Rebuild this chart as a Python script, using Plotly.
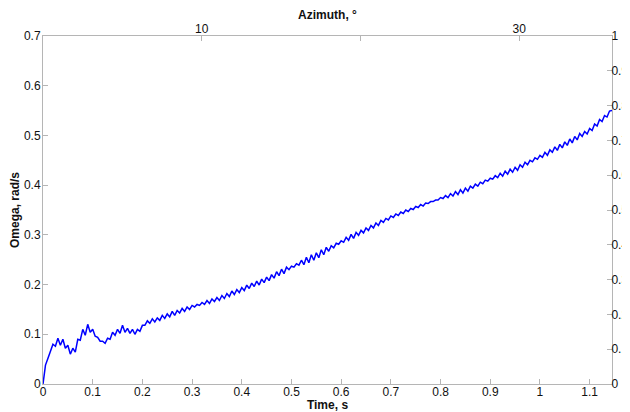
import numpy as np
import plotly.graph_objects as go

# sampling step of the recorded signal, s
dt = 0.005

# Omega, rad/s, sampled every dt from t = 0 s
omega_start = [
    0.000, 0.038, 0.052, 0.068, 0.080, 0.076, 0.092, 0.078, 0.090, 0.072,
    0.078, 0.060, 0.072, 0.064, 0.090, 0.088, 0.110, 0.098, 0.120, 0.104,
    0.110, 0.096, 0.094, 0.086, 0.086, 0.082, 0.092, 0.090, 0.104, 0.098,
    0.110, 0.102, 0.118, 0.104, 0.112, 0.102, 0.110, 0.100, 0.110, 0.106,
    0.118,
]
omega_mid = [
    0.118, 0.127, 0.122, 0.131, 0.125, 0.133, 0.128, 0.138, 0.132, 0.141,
    0.135, 0.146, 0.138, 0.148, 0.143, 0.152, 0.146, 0.155, 0.150, 0.158,
    0.155, 0.160, 0.158, 0.164, 0.160, 0.168, 0.162, 0.171, 0.166, 0.174,
    0.168, 0.178, 0.172, 0.182, 0.176, 0.187, 0.180, 0.190, 0.184, 0.194,
    0.188, 0.199, 0.192, 0.203, 0.196, 0.207, 0.199, 0.211, 0.204, 0.215,
    0.208, 0.220, 0.213, 0.226, 0.218, 0.231, 0.222, 0.235, 0.230, 0.237,
    0.235, 0.242, 0.239, 0.249, 0.240, 0.255, 0.244, 0.260, 0.249, 0.264,
    0.254, 0.270, 0.260, 0.275, 0.267, 0.278, 0.274, 0.283, 0.281, 0.288,
    0.285, 0.295, 0.289, 0.301, 0.293, 0.305, 0.299, 0.309, 0.304, 0.314,
    0.309, 0.319, 0.314, 0.324, 0.319, 0.329, 0.325, 0.333, 0.330, 0.338,
]
omega_end = [
    0.335, 0.342, 0.339, 0.346, 0.343, 0.350, 0.347, 0.353, 0.351, 0.357,
    0.355, 0.361, 0.358, 0.364, 0.363, 0.367, 0.367, 0.370, 0.370, 0.375,
    0.373, 0.379, 0.375, 0.383, 0.378, 0.387, 0.381, 0.391, 0.384, 0.394,
    0.388, 0.398, 0.394, 0.402, 0.398, 0.406, 0.403, 0.410, 0.408, 0.414,
    0.412, 0.419, 0.415, 0.424, 0.418, 0.428, 0.422, 0.432, 0.426, 0.436,
    0.430, 0.441, 0.436, 0.446, 0.441, 0.450, 0.447, 0.455, 0.452, 0.460,
    0.456, 0.466, 0.460, 0.471, 0.466, 0.477, 0.470, 0.482, 0.475, 0.487,
    0.480, 0.493, 0.485, 0.498, 0.491, 0.504, 0.498, 0.508, 0.503, 0.514,
    0.510, 0.523, 0.519, 0.532, 0.528, 0.540, 0.537, 0.549, 0.550,
]
omega = omega_start + omega_mid + omega_end
time_s = np.round(np.arange(len(omega)) * dt, 3)

time_ticks = [0, 0.1, 0.2, 0.3, 0.4, 0.5, 0.6, 0.7, 0.8, 0.9, 1, 1.1]
omega_ticks = [0, 0.1, 0.2, 0.3, 0.4, 0.5, 0.6, 0.7]
right_ticks = [0, 0.1, 0.2, 0.3, 0.4, 0.5, 0.6, 0.7, 0.8, 0.9, 1]
azimuth_ticks = [10, 20, 30]
azimuth_labels = ['10', '', '30']

grey = '#b5b5b5'
font = dict(family='Liberation Sans, Arial, sans-serif', size=12, color='#111')
axis_style = dict(showline=True, linecolor=grey, linewidth=1, ticks='inside',
                  ticklen=5, tickcolor=grey, showgrid=False, zeroline=False,
                  tickfont=font, automargin=False, ticklabeloverflow='allow')

fig = go.Figure()
fig.add_trace(go.Scatter(x=time_s, y=omega, mode='lines',
                         line=dict(color='#0000ff', width=1.5),
                         showlegend=False, hoverinfo='x+y'))
# empty trace so the top and right axes get drawn
fig.add_trace(go.Scatter(x=[None], y=[None], xaxis='x2', yaxis='y2',
                         showlegend=False, hoverinfo='skip'))

# page body has an 8px default margin, so the figure is 8px smaller
fig.update_layout(
    width=622, height=404,
    margin=dict(l=35, r=18, t=28, b=28),
    paper_bgcolor='white', plot_bgcolor='white',
    font=font,
    xaxis=dict(range=[0, 1.145], tickvals=time_ticks, ticklabelstandoff=-3,
               title=dict(text='<b>Time, s</b>', standoff=0,
                          font=dict(size=12)),
               **axis_style),
    yaxis=dict(range=[0, 0.7], tickvals=omega_ticks, ticklabelstandoff=-1,
               title=dict(text='<b>Omega, rad/s</b>', standoff=4,
                          font=dict(size=12)),
               **axis_style),
    xaxis2=dict(range=[0, 35.84], overlaying='x', side='top', anchor='y2',
                tickvals=azimuth_ticks, ticktext=azimuth_labels,
                ticklabelstandoff=-3,
                title=dict(text='<b>Azimuth, °</b>', standoff=2,
                           font=dict(size=12)),
                **axis_style),
    yaxis2=dict(range=[0, 1], overlaying='y', side='right', anchor='x2',
                tickvals=right_ticks, ticklabelstandoff=-4, **axis_style),
)

fig.write_html("out.html")
